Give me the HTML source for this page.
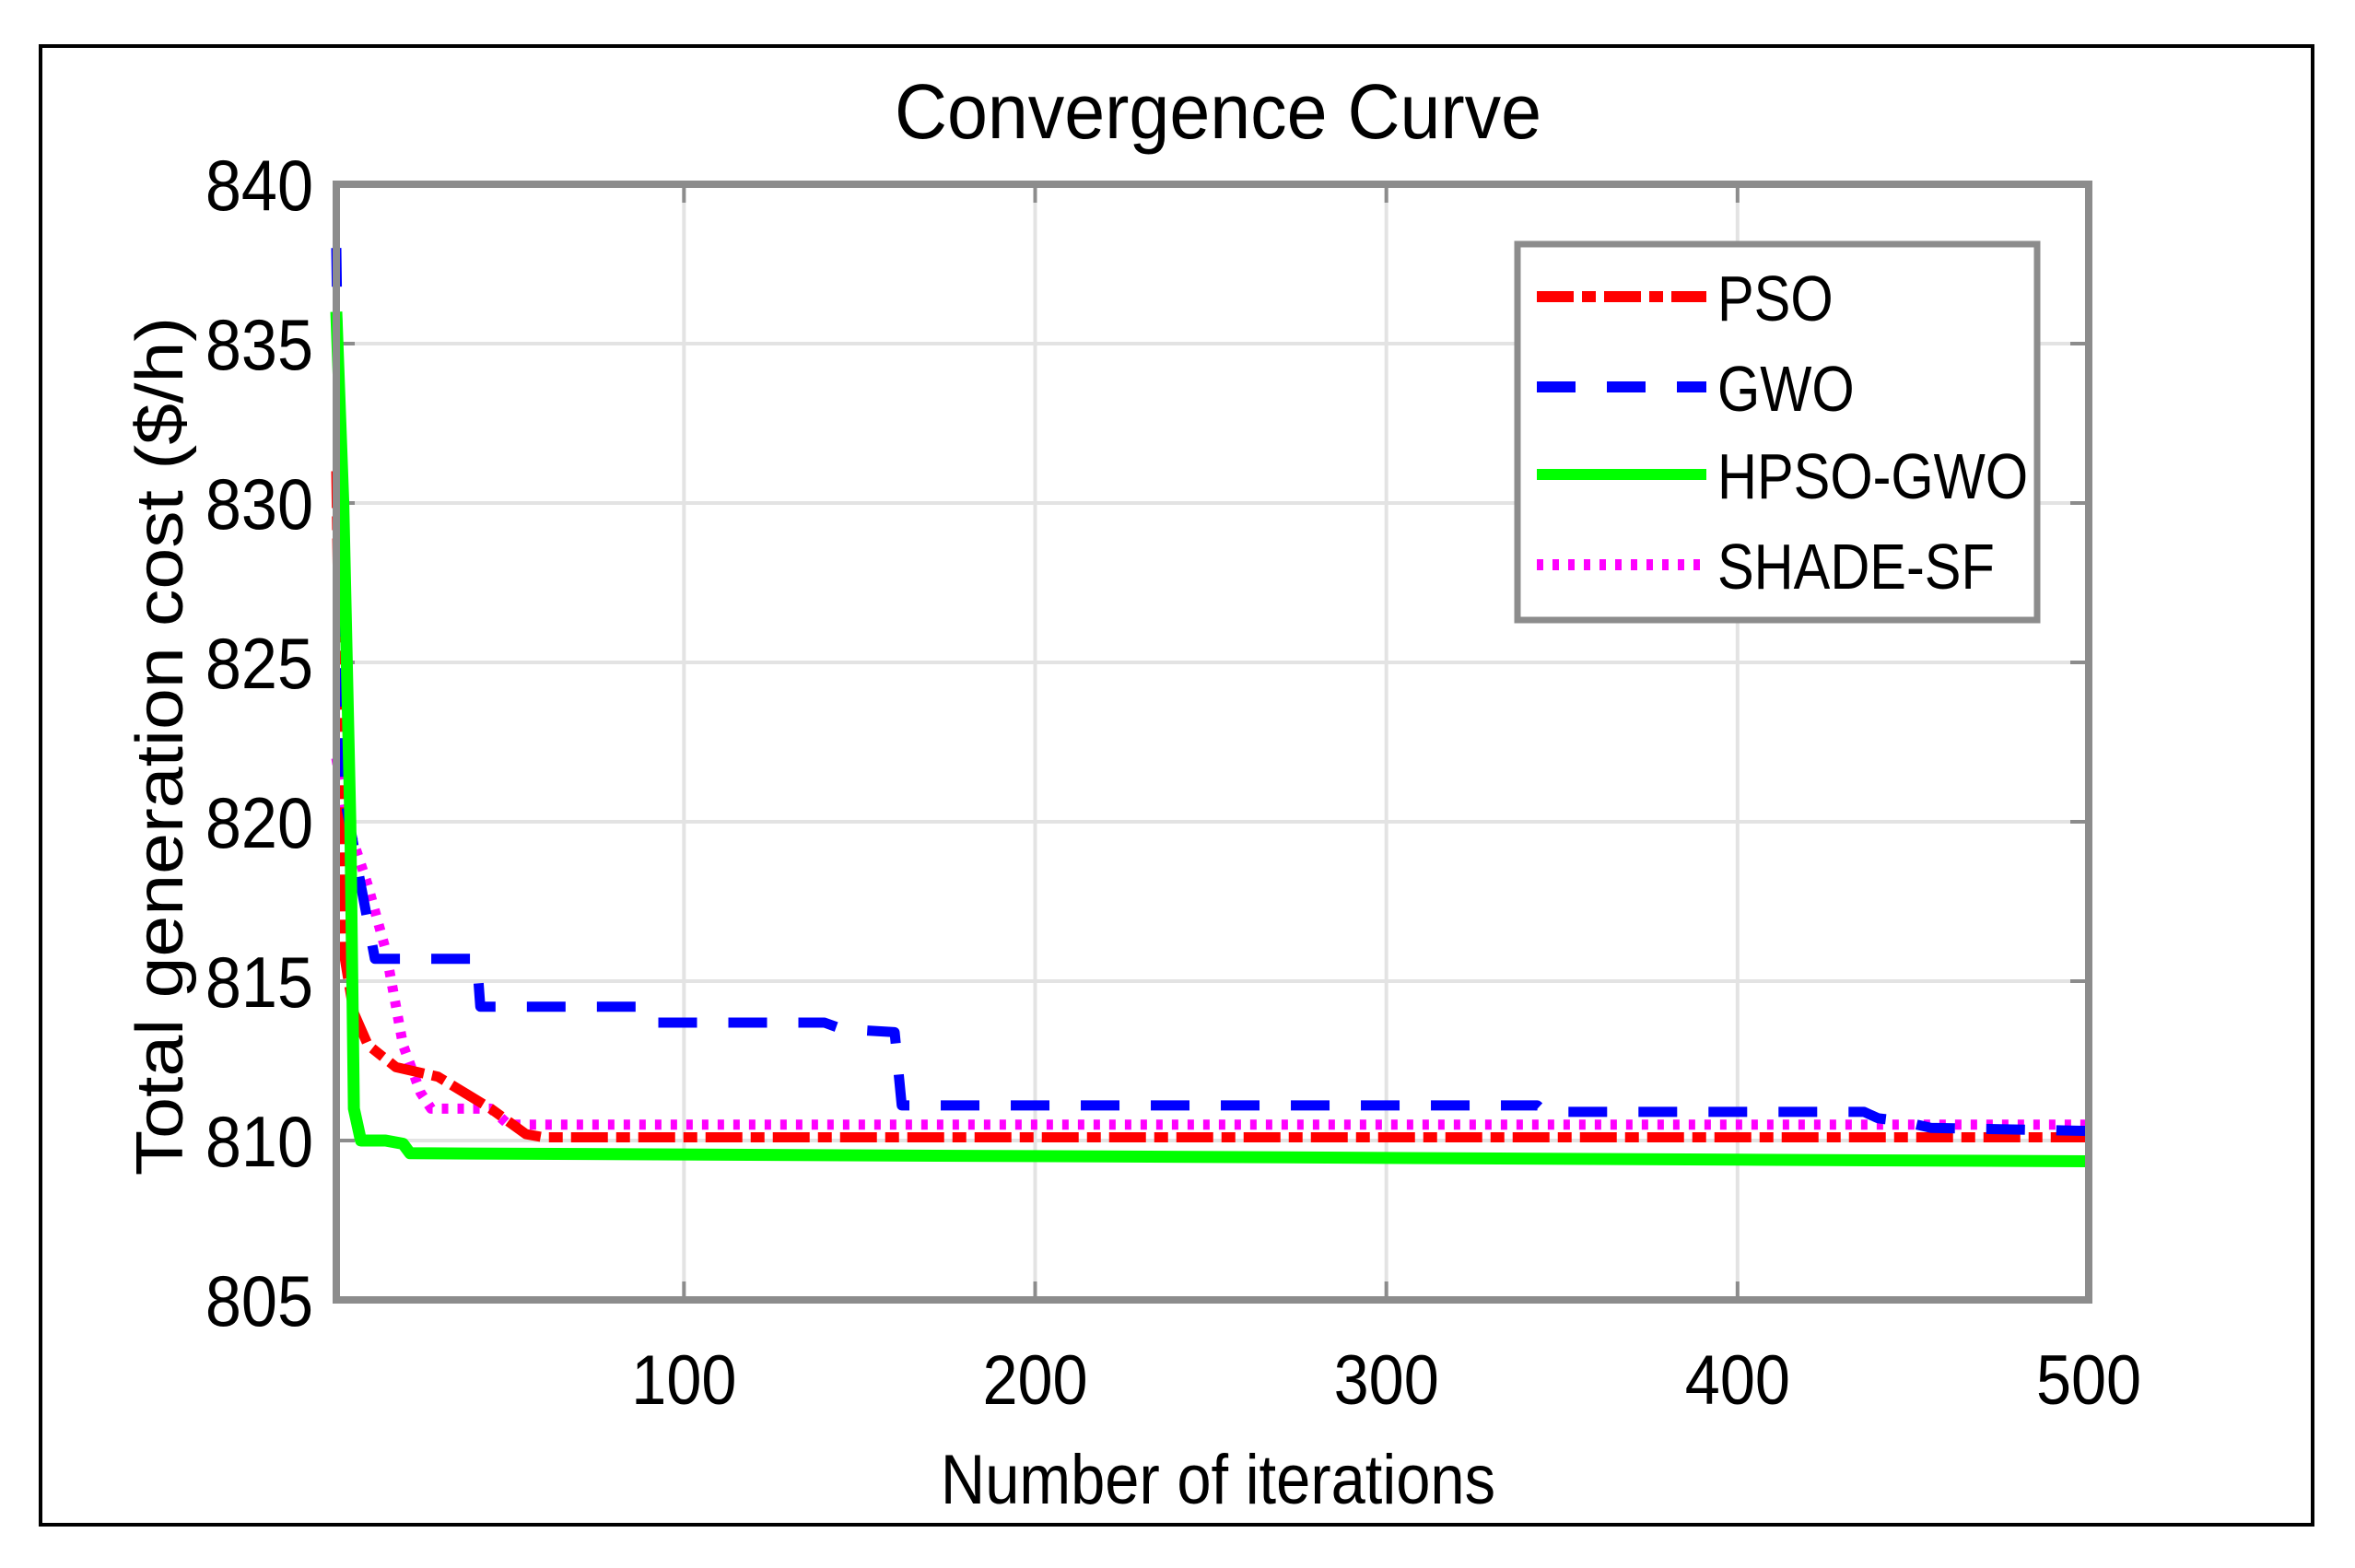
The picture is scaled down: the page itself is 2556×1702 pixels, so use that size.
<!DOCTYPE html>
<html><head><meta charset="utf-8"><style>
html,body{margin:0;padding:0;background:#fff;}
svg{display:block;}
text{font-family:"Liberation Sans",sans-serif;}
</style></head><body>
<svg id="chart" width="2556" height="1702" viewBox="0 0 2556 1702" xmlns="http://www.w3.org/2000/svg">
<rect x="44" y="50" width="2466" height="1605" fill="#fff" stroke="#000" stroke-width="4"/>
<text x="1322" y="150" font-size="84" text-anchor="middle" transform="translate(1322 0) scale(0.94 1) translate(-1322 0)">Convergence Curve</text>
<g id="grid"></g>
<g id="series"></g>
<rect x="365" y="200" width="1902" height="1211" fill="none" stroke="#8c8c8c" stroke-width="8"/>
<g id="ticks"></g>
<text x="0" y="0" font-size="72" text-anchor="middle" transform="translate(198 810) rotate(-90) scale(1.12 1)">Total generation cost ($/h)</text>
<text x="1322" y="1632" font-size="76" text-anchor="middle" transform="translate(1322 0) scale(0.88 1) translate(-1322 0)">Number of iterations</text>
<g id="legend"></g>
</svg>
<script>
const xTicks=[100,200,300,400,500];
const yTicks=[805,810,815,820,825,830,835,840];
const psoX=[1,3,6,10,18,30,45,55,60,500];
const psoY=[831,816,814,813,812.3,812,811,810.2,810.1,810.1];
const gwoX=[1,2,3,8,12,41,42,87,90,140,145,160,162,343,345,436,440,447,455,500];
const gwoY=[838,830,821,818,815.7,815.7,814.2,814.2,813.7,813.7,813.5,813.4,811.1,811.1,810.9,810.9,810.7,810.6,810.4,810.3];
const hpsoX=[1,3,5,6,8,15,20,22,220,400,500];
const hpsoY=[836,830,820,811,810,810,809.9,809.6,809.5,809.4,809.35];
const shadeX=[1,4,10,15,20,25,28,45,50,500];
const shadeY=[822,820,818,816,813,811.5,811,811,810.5,810.5];
const X0=365,X1=2267,Y0=200,Y1=1411,xmin=1,xmax=500,ymin=805,ymax=840;
const sx=v=>X0+(v-xmin)/(xmax-xmin)*(X1-X0);
const sy=v=>Y1-(v-ymin)/(ymax-ymin)*(Y1-Y0);
const NS='http://www.w3.org/2000/svg';
function mk(tag,attrs,parent){const e=document.createElementNS(NS,tag);for(const k in attrs)e.setAttribute(k,attrs[k]);parent.appendChild(e);return e;}
const grid=document.getElementById('grid'),ticks=document.getElementById('ticks');
xTicks.forEach(t=>{
 const g=mk('line',{x1:sx(t),x2:sx(t),y1:Y0,y2:Y1,stroke:'#e3e3e3','stroke-width':4},grid);
 
 
 const tk=mk('line',{x1:sx(t),x2:sx(t),y1:Y1,y2:Y1-20,stroke:'#8c8c8c','stroke-width':4},grid);
 
 
 const tk2=mk('line',{x1:sx(t),x2:sx(t),y1:Y0,y2:Y0+20,stroke:'#8c8c8c','stroke-width':4},grid);
 
 
 const tx=mk('text',{x:0,y:0,'font-size':76,'text-anchor':'middle',transform:`translate(${sx(t)} 1524) scale(0.9 1)`},ticks);
 tx.textContent=t;
 
 
});
yTicks.forEach(t=>{
 const g=mk('line',{x1:X0,x2:X1,y1:sy(t),y2:sy(t),stroke:'#e3e3e3','stroke-width':4},grid);
 
 
 const tk=mk('line',{x1:X0,x2:X0+20,y1:sy(t),y2:sy(t),stroke:'#8c8c8c','stroke-width':4},grid);
 
 
 const tk2=mk('line',{x1:X1-20,x2:X1,y1:sy(t),y2:sy(t),stroke:'#8c8c8c','stroke-width':4},grid);
 
 
 const tx=mk('text',{x:0,y:0,'font-size':78,'text-anchor':'end',transform:`translate(340 ${sy(t)+28}) scale(0.9 1)`},ticks);
 tx.textContent=t;
 
 
});
const styles={
 pso:{c:'#ff0000',d:'40 9 15 9',w:11},
 gwo:{c:'#0000ff',d:'42 34',w:11},
 hpso:{c:'#00ff00',d:'',w:13},
 shade:{c:'#ff00ff',d:'7 10',w:11}
};
const seriesG=document.getElementById('series');
function draw(xs,ys,st,name){
 const pts=xs.map((x,i)=>sx(x).toFixed(1)+','+sy(ys[i]).toFixed(1)).join(' ');
 const p=mk('polyline',{points:pts,fill:'none',stroke:st.c,'stroke-width':st.w,'stroke-dasharray':st.d||'none','stroke-linejoin':'round'},seriesG);
 
 
}
draw(shadeX,shadeY,styles.shade,'series-shade-sf');
draw(psoX,psoY,styles.pso,'series-pso');
draw(gwoX,gwoY,styles.gwo,'series-gwo');
draw(hpsoX,hpsoY,styles.hpso,'series-hpso-gwo');
const leg=document.getElementById('legend');
const box=mk('rect',{x:1647,y:265,width:564,height:408,fill:'#fff',stroke:'#8c8c8c','stroke-width':7},leg);


const legNames=['PSO','GWO','HPSO-GWO','SHADE-SF'];
const legKeys=['pso','gwo','hpso','shade'];
const legY=[322,420,515,613];
legNames.forEach((n,i)=>{
 const st=styles[legKeys[i]];
 const l=mk('line',{x1:1668,x2:1852,y1:legY[i],y2:legY[i],stroke:st.c,'stroke-width':12,'stroke-dasharray':st.d||'none'},leg);
 
 
 const t=mk('text',{x:0,y:0,'font-size':70,transform:`translate(1864 ${legY[i]+26}) scale(0.85 1)`},leg);
 t.textContent=n;
 
 
});
</script>
</body></html>
